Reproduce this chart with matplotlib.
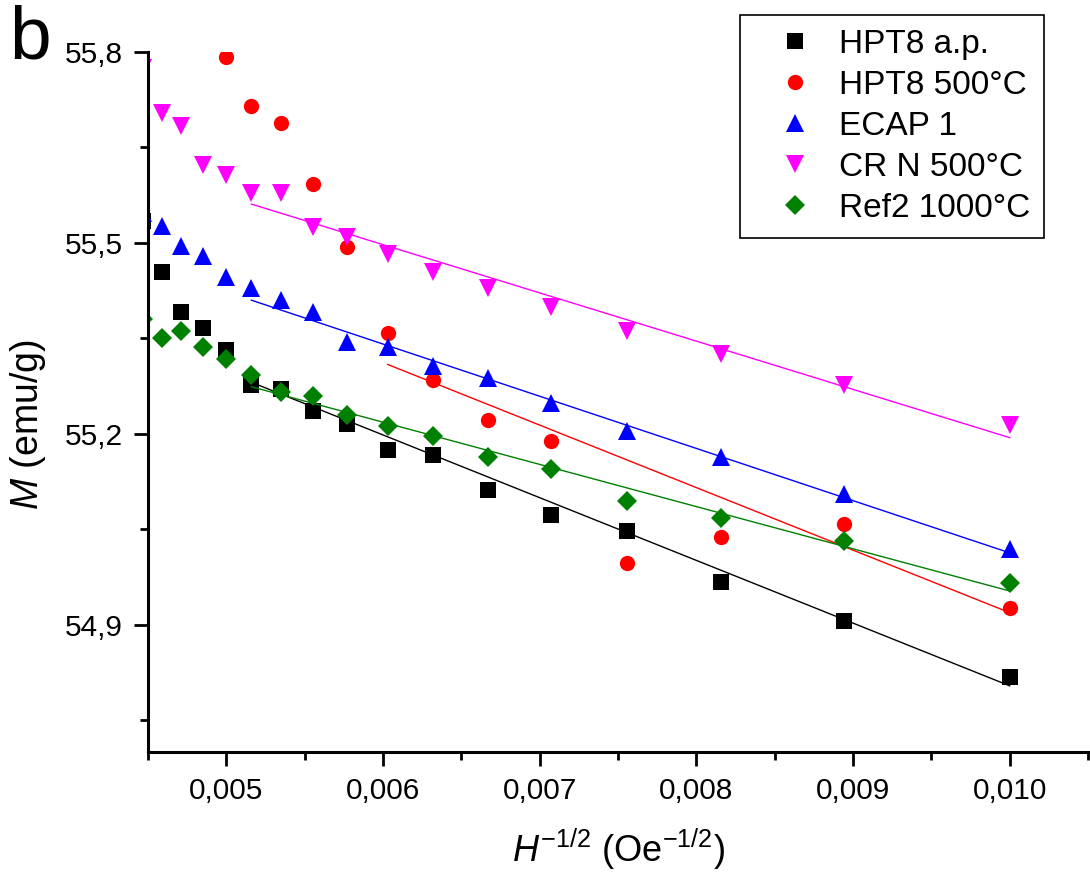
import numpy as np
import matplotlib
matplotlib.use("Agg")
import matplotlib.pyplot as plt
from matplotlib.ticker import MultipleLocator, FuncFormatter

plt.rcParams['font.family'] = ['Liberation Sans', 'DejaVu Sans']
plt.rcParams['mathtext.fontset'] = 'custom'
plt.rcParams['mathtext.rm'] = 'Liberation Sans'
plt.rcParams['mathtext.it'] = 'Liberation Sans:italic'

# H^-1/2 values (Oe^-1/2)
x_all = [0.00447, 0.00459, 0.00471, 0.00485, 0.00500, 0.00516, 0.00535, 0.00555,
         0.00577, 0.00603, 0.00632, 0.00667, 0.00707, 0.00756, 0.00816, 0.00894, 0.01000]
x_red = x_all[4:]

m_hpt8_ap = [55.535, 55.454, 55.391, 55.366, 55.331, 55.276, 55.271, 55.236,
             55.216, 55.174, 55.166, 55.111, 55.073, 55.048, 54.967, 54.906, 54.818]
m_hpt8_500 = [55.792, 55.715, 55.688, 55.592, 55.493, 55.358, 55.284, 55.221,
              55.188, 54.997, 55.038, 55.059, 54.926]
m_ecap1 = [55.547, 55.526, 55.495, 55.479, 55.447, 55.429, 55.410, 55.391,
           55.344, 55.336, 55.306, 55.288, 55.248, 55.205, 55.164, 55.106, 55.019]
m_crn500 = [55.775, 55.704, 55.684, 55.622, 55.606, 55.578, 55.578, 55.525,
            55.509, 55.482, 55.454, 55.429, 55.399, 55.362, 55.326, 55.276, 55.214]
m_ref2 = [55.381, 55.350, 55.361, 55.336, 55.318, 55.293, 55.265, 55.259,
          55.230, 55.213, 55.197, 55.164, 55.144, 55.095, 55.068, 55.032, 54.966]

# linear fits: x range and M at both ends
fit_x0 = [0.00516, 0.00603, 0.00516, 0.00516, 0.00516]
fit_x1 = [0.010, 0.010, 0.010, 0.010, 0.010]
fit_y0 = [55.281, 55.309, 55.410, 55.561, 55.274]
fit_y1 = [54.804, 54.919, 55.013, 55.194, 54.953]

labels = ['HPT8 a.p.', 'HPT8 500°C', 'ECAP 1', 'CR N 500°C', 'Ref2 1000°C']
colors = ['black', '#ff0000', '#0000ff', '#ff00ff', '#008000']
markers = ['s', 'o', '^', 'v', 'D']
sizes = [11, 11, 13.5, 13.5, 10.5]
xs = [x_all, x_red, x_all, x_all, x_all]
ys = [m_hpt8_ap, m_hpt8_500, m_ecap1, m_crn500, m_ref2]

fig = plt.figure(figsize=(10.9, 8.72), dpi=100)
ax = fig.add_axes([148 / 1090, 1 - 752 / 872, 940 / 1090, 700 / 872])

for i in range(len(labels)):
    ax.plot(xs[i], ys[i], linestyle='none', marker=markers[i], color=colors[i],
            markersize=sizes[i], markeredgewidth=0, label=labels[i])
    ax.plot([fit_x0[i], fit_x1[i]], [fit_y0[i], fit_y1[i]], color=colors[i], linewidth=1.0)

ax.set_xlim(0.0045, 0.0105)
ax.set_ylim(54.7, 55.8)

for s in ['top', 'right']:
    ax.spines[s].set_visible(False)
for s in ['left', 'bottom']:
    ax.spines[s].set_linewidth(2.2)

ax.xaxis.set_major_locator(MultipleLocator(0.001))
ax.xaxis.set_minor_locator(MultipleLocator(0.0005))
ax.yaxis.set_major_locator(MultipleLocator(0.3))
ax.yaxis.set_minor_locator(MultipleLocator(0.15))
ax.xaxis.set_major_formatter(FuncFormatter(lambda v, p: f"{v:.3f}".replace('.', ',')))
ax.yaxis.set_major_formatter(FuncFormatter(lambda v, p: f"{v:.1f}".replace('.', ',')))
ax.tick_params(which='major', direction='out', length=10, width=2, labelsize=21.5, pad=8)
ax.tick_params(which='minor', direction='out', length=6, width=2)

ax.set_xlabel(r'$\mathit{H}^{\mathit{-1/2}}$ (Oe$^{\mathit{-1/2}}$)', fontsize=26, labelpad=16)
ax.set_ylabel(r'$\mathit{M}$ (emu/g)', fontsize=27)
ax.yaxis.set_label_coords(-0.106, 0.467)

leg = ax.legend(loc='upper right', bbox_to_anchor=(1044 / 1090, 1 - 15 / 872),
                bbox_transform=fig.transFigure, borderaxespad=0, fontsize=24,
                frameon=True, fancybox=False, edgecolor='black', framealpha=1,
                handlelength=2.5, handletextpad=0.05, labelspacing=0.3,
                borderpad=0.42, numpoints=1)
leg.get_frame().set_linewidth(1.2)

fig.text(0.008, 0.995, 'b', fontsize=54, va='top', ha='left')

fig.savefig('out.png', dpi=100)
